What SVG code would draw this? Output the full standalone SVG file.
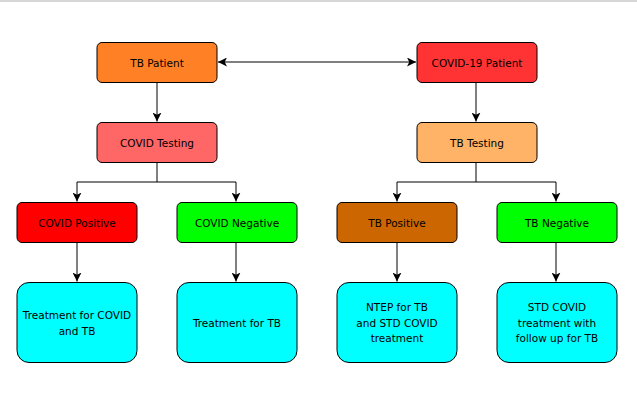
<svg xmlns="http://www.w3.org/2000/svg" width="637" height="400" viewBox="0 0 637 400">
<style>
.box{stroke:#000;stroke-width:1}
.t{font-family:"DejaVu Sans","Liberation Sans",sans-serif;font-size:10.5px;fill:#000;text-anchor:middle;dominant-baseline:central}
.c{fill:none;stroke:#000;stroke-width:1}
</style>
<defs>
<marker id="ah" viewBox="0 0 10 10" refX="10" refY="5" markerWidth="9" markerHeight="9" markerUnits="userSpaceOnUse" orient="auto-start-reverse">
<path d="M0,0 L10,5 L0,10 L2.5,5 z" fill="#000"/>
</marker>
</defs>
<rect x="0" y="0" width="637" height="400" fill="#fff"/>
<line x1="0" y1="1" x2="637" y2="1" stroke="#d6d6d6" stroke-width="2"/>
<g id="connectors">
<line class="c" x1="218" y1="62" x2="416" y2="62" marker-start="url(#ah)" marker-end="url(#ah)"/>
<line class="c" x1="157" y1="82" x2="157" y2="121.5" marker-end="url(#ah)"/>
<line class="c" x1="476" y1="82" x2="476" y2="121.5" marker-end="url(#ah)"/>
<polyline class="c" points="157,162 157,182 77,182 77,201.5" marker-end="url(#ah)"/>
<polyline class="c" points="157,182 236,182 236,201.5" marker-end="url(#ah)"/>
<polyline class="c" points="476,162 476,182 397,182 397,201.5" marker-end="url(#ah)"/>
<polyline class="c" points="476,182 556,182 556,201.5" marker-end="url(#ah)"/>
<line class="c" x1="77" y1="242" x2="77" y2="281.5" marker-end="url(#ah)"/>
<line class="c" x1="236" y1="242" x2="236" y2="281.5" marker-end="url(#ah)"/>
<line class="c" x1="397" y1="242" x2="397" y2="281.5" marker-end="url(#ah)"/>
<line class="c" x1="556" y1="242" x2="556" y2="281.5" marker-end="url(#ah)"/>
</g>
<g id="tb-patient"><rect class="box" x="97" y="42.5" width="120" height="40" rx="5" fill="#FF8025"/><text class="t" x="157" y="62.5">TB Patient</text></g>
<g id="covid19-patient"><rect class="box" x="417" y="42.5" width="120" height="40" rx="5" fill="#FF3333"/><text class="t" x="477" y="62.5">COVID-19 Patient</text></g>
<g id="covid-testing"><rect class="box" x="97" y="122.5" width="120" height="40" rx="5" fill="#FF6666"/><text class="t" x="157" y="142.5">COVID Testing</text></g>
<g id="tb-testing"><rect class="box" x="417" y="122.5" width="120" height="40" rx="5" fill="#FFB366"/><text class="t" x="477" y="142.5">TB Testing</text></g>
<g id="covid-positive"><rect class="box" x="17" y="202.5" width="120" height="40" rx="5" fill="#FF0000"/><text class="t" x="77" y="222.5">COVID Positive</text></g>
<g id="covid-negative"><rect class="box" x="177" y="202.5" width="120" height="40" rx="5" fill="#00FF00"/><text class="t" x="237" y="222.5">COVID Negative</text></g>
<g id="tb-positive"><rect class="box" x="337" y="202.5" width="120" height="40" rx="5" fill="#CC6600"/><text class="t" x="397" y="222.5">TB Positive</text></g>
<g id="tb-negative"><rect class="box" x="497" y="202.5" width="120" height="40" rx="5" fill="#00FF00"/><text class="t" x="557" y="222.5">TB Negative</text></g>
<g id="treat-covid-tb"><rect class="box" x="17" y="282.5" width="120" height="80" rx="12" fill="#00FFFF"/><text class="t" x="77" y="314.5">Treatment for COVID</text><text class="t" x="77" y="330.5">and TB</text></g>
<g id="treat-tb"><rect class="box" x="177" y="282.5" width="120" height="80" rx="12" fill="#00FFFF"/><text class="t" x="237" y="322.5">Treatment for TB</text></g>
<g id="ntep"><rect class="box" x="337" y="282.5" width="120" height="80" rx="12" fill="#00FFFF"/><text class="t" x="397" y="307">NTEP for TB</text><text class="t" x="397" y="322.5">and STD COVID</text><text class="t" x="397" y="338">treatment</text></g>
<g id="std-covid"><rect class="box" x="497" y="282.5" width="120" height="80" rx="12" fill="#00FFFF"/><text class="t" x="557" y="307">STD COVID</text><text class="t" x="557" y="322.5">treatment with</text><text class="t" x="557" y="338">follow up for TB</text></g>
</svg>
